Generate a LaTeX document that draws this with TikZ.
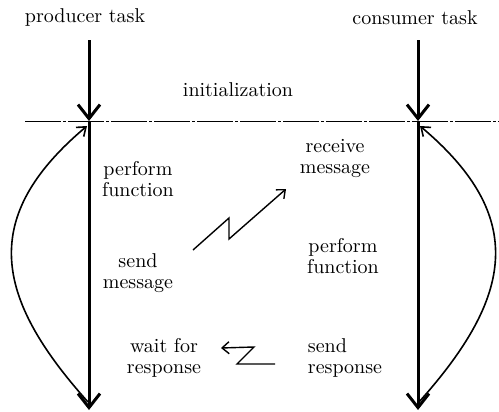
\documentclass[tikz,border=0pt]{standalone}
\usetikzlibrary{arrows.meta}
\begin{document}
\begin{tikzpicture}[x=0.5pt, y=-0.5pt,
  lifeline/.style={line width=1.5pt, -{Straight Barb[length=7pt,width=11pt]}},
  loopback/.style={line width=0.8pt, -{Straight Barb[length=4pt,width=6pt]}},
  signal/.style={line width=0.7pt, line join=miter, -{Straight Barb[length=3.5pt,width=6pt]}},
  phase/.style={font=\fontsize{10}{10.5}\selectfont, align=center, inner sep=0pt}]
  \useasboundingbox (0,0) rectangle (499,412);
  % Task lines
  \coordinate (ptop) at (89,40);
  \coordinate (pmid) at (89,121);
  \coordinate (pbot) at (89,410);
  \coordinate (ctop) at (418,40);
  \coordinate (cmid) at (418,121);
  \coordinate (cbot) at (418,410);
  \coordinate (initL) at (25,121);
  \coordinate (initR) at (499,121);
  \draw[line width=0.45pt, dash pattern=on 18pt off 1pt on 1.5pt off 1pt] (initL) -- (initR);
  \draw[lifeline] (ptop) -- (pmid);
  \draw[lifeline] (pmid) -- (pbot);
  \draw[lifeline] (ctop) -- (cmid);
  \draw[lifeline] (cmid) -- (cbot);
  % Loops back to the top
  \coordinate (ploopA) at (88,402);
  \coordinate (ploopB) at (87,126);
  \coordinate (cloopA) at (419,402);
  \coordinate (cloopB) at (420,126);
  \draw[loopback] (ploopA) .. controls (-6,297) and (-21,217) .. (ploopB);
  \draw[loopback] (cloopA) .. controls (513,297) and (528,217) .. (cloopB);
  % Labels
  \node[phase] (prod) at (85,17) {producer task};
  \node[phase] (cons) at (415,18) {consumer task};
  \node[phase] (init) at (238,90) {initialization};
  \node[phase] (pfunc) at (138,179) {perform\\function};
  \node[phase] (psend) at (138,273) {send\\message};
  \node[phase] (pwait) at (164,358) {wait for\\response};
  \node[phase] (crecv) at (335,158) {receive\\message};
  \node[phase] (cfunc) at (343,256) {perform\\function};
  \node[phase, align=left] (csend) at (345,358) {send\\response};
  % Messages
  \coordinate (msgA) at (193,250);
  \coordinate (msgB) at (229,218);
  \coordinate (msgC) at (229,239);
  \coordinate (msgD) at (286,189);
  \draw[signal] (msgA) -- (msgB) -- (msgC) -- (msgD);
  \coordinate (rspA) at (275,364);
  \coordinate (rspB) at (237,364);
  \coordinate (rspC) at (254,347);
  \coordinate (rspD) at (221,348);
  \draw[signal] (rspA) -- (rspB) -- (rspC) -- (rspD);
\end{tikzpicture}
\end{document}
